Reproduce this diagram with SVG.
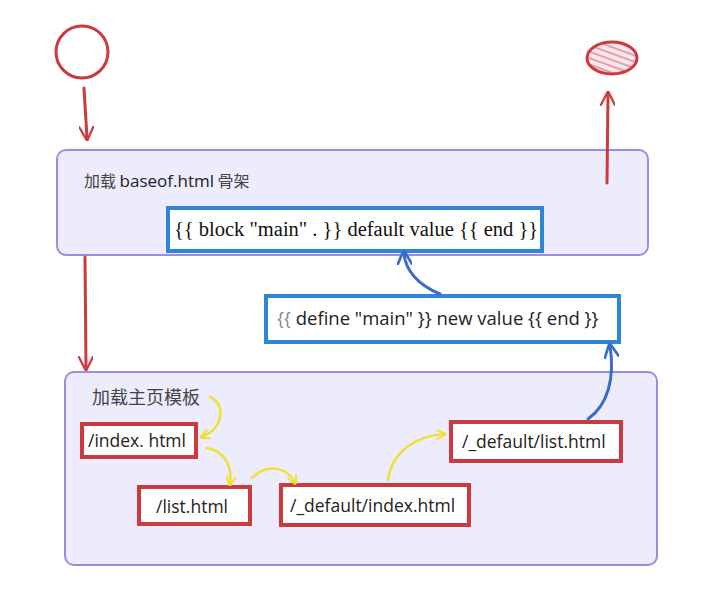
<svg xmlns="http://www.w3.org/2000/svg" width="715" height="614" viewBox="0 0 715 614">
<style>
.panel{fill:#ececfc;stroke:#9b8ce0;stroke-width:2}
.bbox{fill:#ffffff;stroke:#2f86d4;stroke-width:4}
.rbox{fill:#ffffff;stroke:#cc3a40;stroke-width:4}
.red{fill:none;stroke:#cc3a40;stroke-width:3;stroke-linecap:round}
.yel{fill:none;stroke:#f0e030;stroke-width:2.5;stroke-linecap:round}
.blu{fill:none;stroke:#3a6cc8;stroke-width:3;stroke-linecap:round}
.sans{font-family:"Open Sans","Noto Sans","Noto Sans CJK SC",sans-serif;fill:#222}
.serif{font-family:"Liberation Serif","Noto Sans CJK SC",serif;fill:#111}
.cjk{font-family:"Noto Sans CJK SC",sans-serif;fill:#444}
</style>
<defs>
<marker id="ay" viewBox="0 0 10 10" refX="8" refY="5" markerWidth="4" markerHeight="4" orient="auto"><path d="M0,0 L10,5 L0,10" fill="none" stroke="#f0e030" stroke-width="2"/></marker>
<marker id="ab" viewBox="0 0 10 10" refX="8" refY="5" markerWidth="5" markerHeight="5" orient="auto"><path d="M0,0 L10,5 L0,10" fill="none" stroke="#3a6cc8" stroke-width="1.8"/></marker>
<marker id="ar" viewBox="0 0 10 10" refX="8" refY="5" markerWidth="5" markerHeight="5" orient="auto"><path d="M0,0 L10,5 L0,10" fill="none" stroke="#cc3a40" stroke-width="1.5"/></marker>
<pattern id="hatch" width="6" height="6" patternUnits="userSpaceOnUse" patternTransform="rotate(20)"><rect width="6" height="6" fill="#f8e8ec"/><line x1="0" y1="3" x2="6" y2="3" stroke="#e5a0aa" stroke-width="2"/></pattern>
</defs>
<rect width="715" height="614" fill="#ffffff"/>

<g id="start"><circle cx="82" cy="52" r="26" fill="#ffffff" stroke="#cc3a40" stroke-width="3"/></g>
<g id="end"><ellipse cx="612" cy="58" rx="25" ry="16" fill="url(#hatch)" stroke="#cc3a40" stroke-width="3"/></g>

<g id="baseof">
<rect class="panel" x="57" y="150" width="591" height="105" rx="9"/>
<text class="cjk" x="84" y="187" font-size="16">加载 <tspan class="sans" font-size="17" fill="#222">baseof.html</tspan> 骨架</text>
</g>
<g id="block">
<rect class="bbox" x="168" y="208" width="374" height="43"/>
<text class="serif" x="174" y="236" font-size="20.5">{{ block "main" . }} default value {{ end }}</text>
</g>
<g id="define">
<rect class="bbox" x="266" y="296" width="353" height="46"/>
<text class="sans" x="277" y="325" font-size="18.5"><tspan fill="#888">{{</tspan> define "main" }} new value {{ end }}</text>
</g>
<g id="home">
<rect class="panel" x="65" y="372" width="592" height="193" rx="9"/>
<text class="cjk" x="92" y="404" font-size="18">加载主页模板</text>
</g>
<g id="index">
<rect class="rbox" x="82" y="424" width="114" height="33"/>
<text class="sans" x="88" y="447" font-size="17.5">/index. html</text>
</g>
<g id="list">
<rect class="rbox" x="139" y="487" width="111" height="37"/>
<text class="sans" x="156" y="513" font-size="17.5">/list.html</text>
</g>
<g id="default-index">
<rect class="rbox" x="281" y="485" width="188" height="40"/>
<text class="sans" x="290" y="512" font-size="17.5">/_default/index.html</text>
</g>
<g id="default-list">
<rect class="rbox" x="451" y="422" width="170" height="39"/>
<text class="sans" x="462" y="448" font-size="17.5">/_default/list.html</text>
</g>

<g id="connectors">
<path class="red" d="M84,88 L87,138" marker-end="url(#ar)"/>
<path class="red" d="M607,183 L608,94" marker-end="url(#ar)"/>
<path class="red" d="M85,257 L86,368" marker-end="url(#ar)"/>
<path class="yel" d="M210,397 C226,404 224,428 202,437" marker-end="url(#ay)"/>
<path class="yel" d="M207,448 C228,452 232,470 230,484" marker-end="url(#ay)"/>
<path class="yel" d="M252,478 C268,462 288,468 295,483" marker-end="url(#ay)"/>
<path class="yel" d="M388,480 C392,450 418,436 444,434" marker-end="url(#ay)"/>
<path class="blu" d="M588,419 C608,405 615,378 610,346" marker-end="url(#ab)"/>
<path class="blu" d="M440,294 C418,285 405,270 404,253" marker-end="url(#ab)"/>
</g>
</svg>
